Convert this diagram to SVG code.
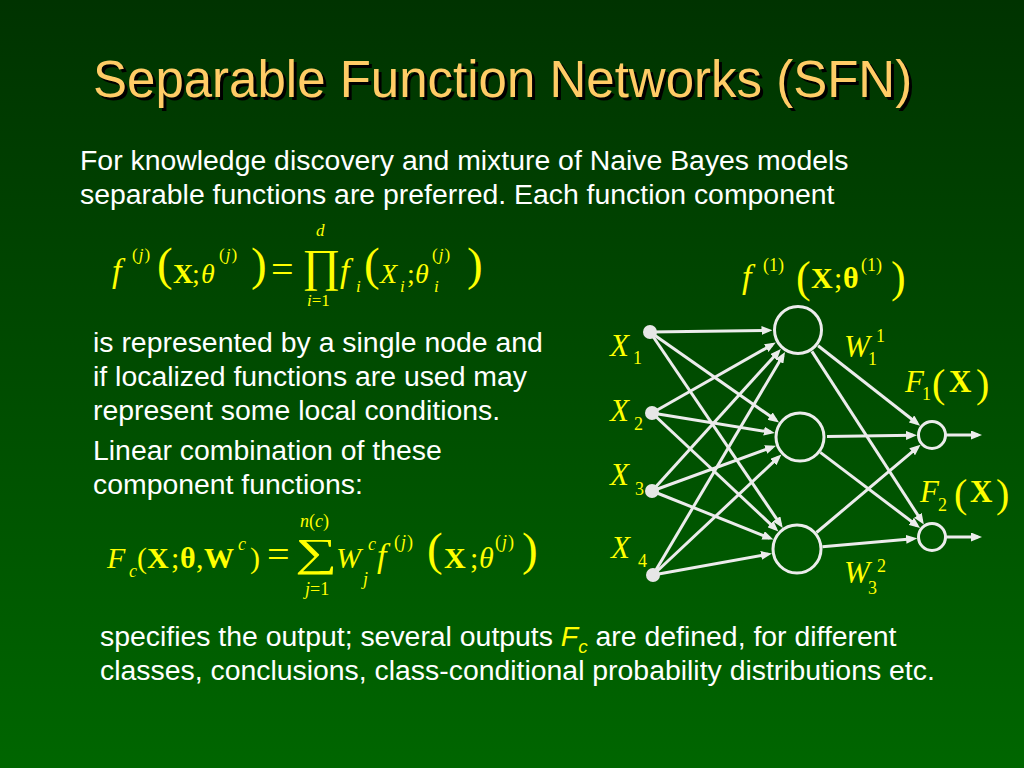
<svg xmlns="http://www.w3.org/2000/svg" width="1024" height="768" viewBox="0 0 1024 768">
<defs>
<linearGradient id="bg" x1="0" y1="0" x2="0" y2="1">
<stop offset="0" stop-color="#003300"/>
<stop offset="1" stop-color="#006600"/>
</linearGradient>
<marker id="ah" markerUnits="userSpaceOnUse" markerWidth="11" markerHeight="9" refX="7" refY="4.5" orient="auto">
<path d="M0,0 L11,4.5 L0,9 z" fill="#ececec"/>
</marker>
<style>
.title{font-family:"Liberation Sans",Arial,sans-serif;font-size:51px;fill:#FFCC66}
.shadow{font-family:"Liberation Sans",Arial,sans-serif;font-size:51px;fill:#000000}
.body{font-family:"Liberation Sans",Arial,sans-serif;font-size:28.4px;fill:#FFFFFF}
.m{font-family:"Liberation Serif","Times New Roman",serif;font-size:28px;fill:#FFFF00}
.m2{font-family:"Liberation Serif","Times New Roman",serif;font-size:30px;fill:#FFFF00}
.n{font-family:"Liberation Serif","Times New Roman",serif;font-size:31px;fill:#FFFF00}
.s{font-size:17px}
.s2{font-size:18px}
.sp{letter-spacing:1px}
.it{font-style:italic}
.b{font-weight:bold}
.big{font-size:47px}
.eq{font-size:40px}
.ff{font-size:34px}
.edge{stroke:#ececec;stroke-width:3;fill:none;marker-end:url(#ah)}
.hid{fill:none;stroke:#ececec;stroke-width:3}
.inp{fill:#e6e6e6}
</style>
</defs>
<rect width="1024" height="768" fill="url(#bg)"/>

<g id="title">
<text class="shadow" x="96" y="100">Separable Function Networks (SFN)</text>
<text class="title" x="93" y="97">Separable Function Networks (SFN)</text>
</g>

<g id="text">
<text class="body" x="80" y="170">For knowledge discovery and mixture of Naive Bayes models</text>
<text class="body" x="80" y="204">separable functions are preferred. Each function component</text>
<text class="body" x="93" y="352">is represented by a single node and</text>
<text class="body" x="93" y="386">if localized functions are used may</text>
<text class="body" x="93" y="420">represent some local conditions.</text>
<text class="body" x="93" y="460">Linear combination of these</text>
<text class="body" x="93" y="494">component functions:</text>
<text class="body" x="100" y="646">specifies the output; several outputs <tspan fill="#FFFF00" font-style="italic">F</tspan><tspan fill="#FFFF00" font-style="italic" style="font-size:19px" dy="7">c</tspan><tspan dy="-7"> are defined, for different</tspan></text>
<text class="body" x="100" y="680">classes, conclusions, class-conditional probability distributions etc.</text>
</g>

<g id="formula1">
<text class="m ff it" x="112" y="282">f</text>
<text class="m s sp" x="132" y="260">(<tspan class="it">j</tspan>)</text>
<text class="m big" x="157" y="280">(</text>
<text class="m b" x="173" y="283">X</text>
<text class="m" x="192" y="283">;</text>
<text class="m it" x="201" y="283">θ</text>
<text class="m s sp" x="219" y="260">(<tspan class="it">j</tspan>)</text>
<text class="m big" x="251" y="280">)</text>
<text class="m eq" x="271" y="283">=</text>
<text class="m" x="302" y="281" style="font-size:46px">∏</text>
<text class="m s it" x="316" y="236">d</text>
<text class="m s" x="307" y="306"><tspan class="it">i</tspan>=1</text>
<text class="m ff it" x="340" y="282">f</text>
<text class="m s it" x="356" y="292">i</text>
<text class="m big" x="364" y="280">(</text>
<text class="m it" x="380" y="283">X</text>
<text class="m s it" x="400" y="292">i</text>
<text class="m" x="407" y="283">;</text>
<text class="m it" x="415" y="283">θ</text>
<text class="m s sp" x="432" y="260">(<tspan class="it">j</tspan>)</text>
<text class="m s it" x="434" y="292">i</text>
<text class="m big" x="467" y="280">)</text>
</g>

<g id="formula2">
<text class="m2 it" x="107" y="568">F</text>
<text class="m2 s2 it" x="129" y="577">c</text>
<text class="m2" x="137" y="568">(</text>
<text class="m2 b" x="147" y="568">X</text>
<text class="m2" x="171" y="568">;</text>
<text class="m2 b" x="180" y="568">θ</text>
<text class="m2" x="196" y="568">,</text>
<text class="m2 b" x="204" y="568">W</text>
<text class="m2 s2 it" x="238" y="550">c</text>
<text class="m2" x="250" y="568">)</text>
<text class="m2 eq" x="267" y="568">=</text>
<text class="m2" x="295" y="566" style="font-size:40px" textLength="42" lengthAdjust="spacingAndGlyphs">∑</text>
<text class="m2 s2" x="300" y="527"><tspan class="it">n</tspan>(<tspan class="it">c</tspan>)</text>
<text class="m2 s2" x="305" y="595"><tspan class="it">j</tspan>=1</text>
<text class="m2 it" x="336" y="568">W</text>
<text class="m2 s2 it" x="368" y="550">c</text>
<text class="m2 s2 it" x="363" y="585">j</text>
<text class="m2 ff it" x="377" y="567">f</text>
<text class="m2 s2 sp" x="394" y="548">(<tspan class="it">j</tspan>)</text>
<text class="m2 big" x="427" y="565">(</text>
<text class="m2 b" x="444" y="568">X</text>
<text class="m2" x="470" y="568">;</text>
<text class="m2 it" x="479" y="568">θ</text>
<text class="m2 s2 sp" x="495" y="548">(<tspan class="it">j</tspan>)</text>
<text class="m2 big" x="522" y="565">)</text>
</g>

<g id="connectors">
<line class="edge" x1="650" y1="332" x2="768.5" y2="330.4"/>
<line class="edge" x1="650" y1="332" x2="775.8" y2="420.1"/>
<line class="edge" x1="650" y1="332" x2="780.5" y2="524.6"/>
<line class="edge" x1="652" y1="413" x2="772.3" y2="344.6"/>
<line class="edge" x1="652" y1="413" x2="770.9" y2="432.3"/>
<line class="edge" x1="652" y1="413" x2="775.5" y2="528.8"/>
<line class="edge" x1="652" y1="491" x2="778.2" y2="351.9"/>
<line class="edge" x1="652" y1="491" x2="772.3" y2="447.1"/>
<line class="edge" x1="652" y1="491" x2="769.6" y2="538.0"/>
<line class="edge" x1="653" y1="575" x2="783.0" y2="355.4"/>
<line class="edge" x1="653" y1="575" x2="778.5" y2="457.2"/>
<line class="edge" x1="653" y1="575" x2="768.0" y2="554.2"/>
<line class="edge" x1="818.1" y1="345.7" x2="917.0" y2="423.3"/>
<line class="edge" x1="811.9" y1="351.4" x2="921.7" y2="521.1"/>
<line class="edge" x1="827" y1="436.6" x2="913.0" y2="435.3"/>
<line class="edge" x1="820.3" y1="452.4" x2="916.9" y2="525.5"/>
<line class="edge" x1="816.5" y1="532.5" x2="917.5" y2="447.3"/>
<line class="edge" x1="822.4" y1="546.7" x2="913.1" y2="538.7"/>
<line class="edge" x1="946" y1="435" x2="978" y2="435"/>
<line class="edge" x1="946" y1="537" x2="978" y2="537"/>
</g>

<g id="x1"><circle class="inp" cx="650" cy="332" r="7"/><text class="n it" x="610" y="356">X</text><text class="n s2" x="633" y="364">1</text></g>
<g id="x2"><circle class="inp" cx="652" cy="413" r="7"/><text class="n it" x="610" y="421">X</text><text class="n s2" x="634" y="430">2</text></g>
<g id="x3"><circle class="inp" cx="652" cy="491" r="7"/><text class="n it" x="610" y="485">X</text><text class="n s2" x="635" y="495">3</text></g>
<g id="x4"><circle class="inp" cx="653" cy="575" r="7"/><text class="n it" x="611" y="558">X</text><text class="n s2" x="638" y="567">4</text></g>

<g id="h1">
<circle class="hid" cx="798" cy="330" r="23.5"/>
<text class="m2 ff it" x="742" y="288">f</text>
<text class="m2 s2" x="763" y="271">(1)</text>
<text class="m2" x="796" y="292" style="font-size:44px">(</text>
<text class="m2 b" x="811" y="288">X</text>
<text class="m2" x="834" y="288">;</text>
<text class="m2 b" x="843" y="288">θ</text>
<text class="m2 s2" x="861" y="271">(1)</text>
<text class="m2" x="891" y="292" style="font-size:44px">)</text>
</g>
<g id="h2"><circle class="hid" cx="800" cy="437" r="24"/></g>
<g id="h3"><circle class="hid" cx="797" cy="549" r="24"/></g>

<g id="o1">
<circle class="hid" cx="932" cy="435" r="13.5"/>
<text class="n it" x="905" y="392">F</text>
<text class="n s2" x="922" y="400">1</text>
<text class="n" x="932" y="397" style="font-size:40px">(</text>
<text class="n b" x="949" y="392">X</text>
<text class="n" x="976" y="397" style="font-size:40px">)</text>
</g>
<g id="o2">
<circle class="hid" cx="932" cy="537" r="13.5"/>
<text class="n it" x="920" y="502">F</text>
<text class="n s2" x="938" y="511">2</text>
<text class="n" x="954" y="507" style="font-size:40px">(</text>
<text class="n b" x="970" y="502">X</text>
<text class="n" x="996" y="507" style="font-size:40px">)</text>
</g>

<g id="w11"><text class="n it" x="844" y="357">W</text><text class="n s2" x="876" y="342">1</text><text class="n s2" x="868" y="365">1</text></g>
<g id="w32"><text class="n it" x="844" y="583">W</text><text class="n s2" x="877" y="572">2</text><text class="n s2" x="868" y="594">3</text></g>
</svg>
